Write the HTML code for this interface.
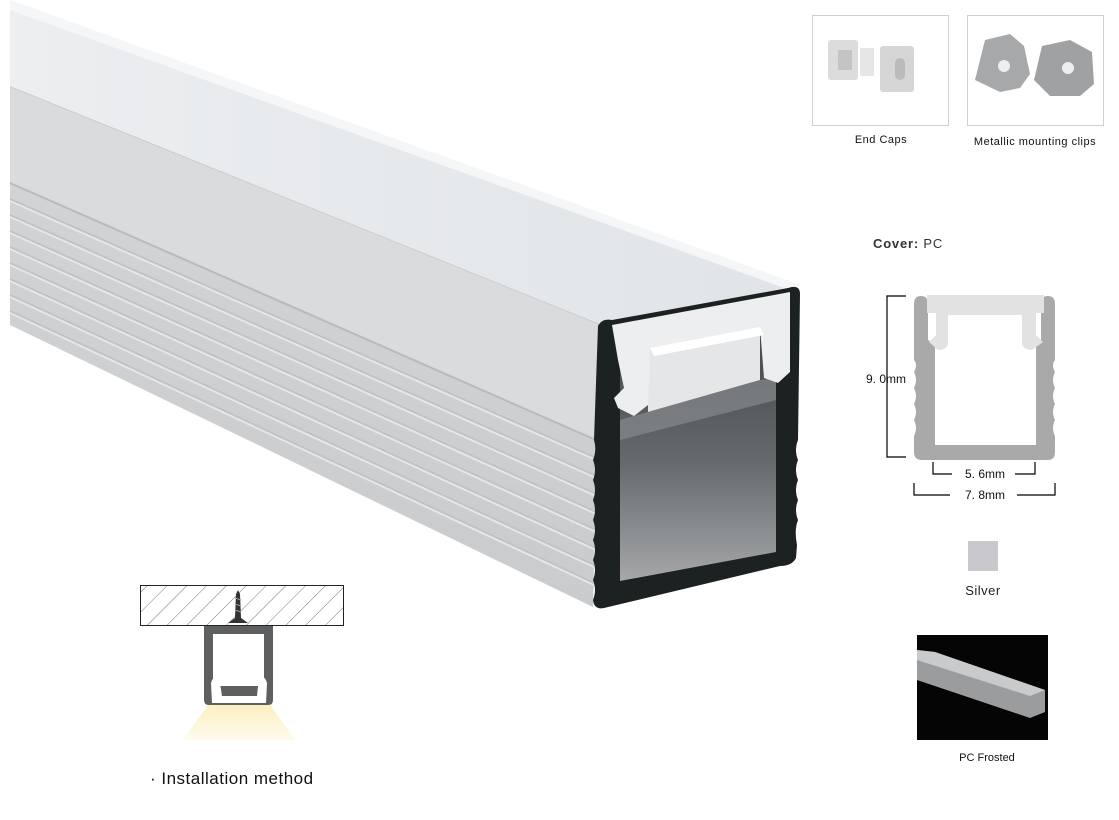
<!DOCTYPE html>
<html><head><style>
body{margin:0;background:#fff;width:1119px;height:820px;overflow:hidden;font-family:"Liberation Sans",sans-serif}
svg{position:absolute;left:0;top:0}
</style></head><body>
<svg width="1119" height="820" viewBox="0 0 1119 820" xmlns="http://www.w3.org/2000/svg">
<defs>
<linearGradient id="side" x1="0" y1="0" x2="0" y2="1"><stop offset="0" stop-color="#d3d5d7"/><stop offset="1" stop-color="#c9cbcd"/></linearGradient>
<linearGradient id="top" x1="0" y1="0" x2="1" y2="0"><stop offset="0" stop-color="#eceef0"/><stop offset="1" stop-color="#e0e4e8"/></linearGradient>
<linearGradient id="cav" x1="0" y1="0" x2="0" y2="1"><stop offset="0" stop-color="#3f4447"/><stop offset="0.55" stop-color="#666a6d"/><stop offset="1" stop-color="#a5a7a9"/></linearGradient>
<linearGradient id="cone" x1="0" y1="0" x2="0" y2="1"><stop offset="0" stop-color="#fbefc0"/><stop offset="1" stop-color="#fffbee"/></linearGradient>
<pattern id="hatch" width="14" height="14" patternUnits="userSpaceOnUse" patternTransform="rotate(45)"><line x1="0" y1="0" x2="0" y2="14" stroke="#555" stroke-width="0.8"/></pattern>
</defs>
<!-- top face -->
<polygon points="10,0 800,285 600,325 10,87" fill="url(#top)"/>
<polygon points="10,0 800,285 790,290 10,10" fill="#f4f6f7"/>
<line x1="10" y1="87" x2="600" y2="325" stroke="#c4c7ca" stroke-width="1.5"/>
<!-- side face -->
<polygon points="10,87 600,325 593,607 10,325" fill="url(#side)"/>
<polygon points="10,87 600,325 598,440 10,183" fill="#d9dbdd"/>
<g stroke-width="2" fill="none">
<path d="M10,183 L596,440" stroke="#b8babc"/>
<path d="M10,199 L596,458" stroke="#c0c2c4"/><path d="M10,201 L596,460" stroke="#e4e6e8"/>
<path d="M10,215 L596,476" stroke="#c0c2c4"/><path d="M10,217 L596,478" stroke="#e4e6e8"/>
<path d="M10,231 L596,494" stroke="#c0c2c4"/><path d="M10,233 L596,496" stroke="#e4e6e8"/>
<path d="M10,247 L596,512" stroke="#c0c2c4"/><path d="M10,249 L596,514" stroke="#e4e6e8"/>
<path d="M10,263 L596,530" stroke="#c0c2c4"/><path d="M10,265 L596,532" stroke="#e4e6e8"/>
<path d="M10,279 L596,548" stroke="#c0c2c4"/><path d="M10,281 L596,550" stroke="#e4e6e8"/>
<path d="M10,295 L596,566" stroke="#c0c2c4"/><path d="M10,297 L596,568" stroke="#e4e6e8"/>
<path d="M10,311 L596,584" stroke="#c0c2c4"/><path d="M10,313 L596,586" stroke="#e4e6e8"/>
</g>
<!-- front face -->
<path d="M598,326 Q602,318 612,320 L788,288 Q800,284 800,294 L798,440 Q794,450 798,460 Q794,470 798,480 Q794,490 798,500 Q794,510 798,520 Q794,530 797,545 L796,558 Q792,566 780,566 L604,608 Q594,610 593,600 Q597,590 593,580 Q597,570 593,560 Q597,550 593,540 Q597,530 593,520 Q597,510 593,500 Q597,490 593,480 Q597,470 593,460 Q597,450 594,440 Z" fill="#1c2121"/>
<polygon points="620,350 776,318 776,552 620,581" fill="url(#cav)"/>
<polygon points="648,348 760,326 760,380 648,412" fill="#e4e6e8"/>
<polygon points="648,412 760,380 776,378 776,400 620,440 620,420" fill="#8d9194" opacity="0.6"/>
<!-- cover insert -->
<path d="M612,325 L790,292 L790,372 L778,383 L764,378 L760,327 L650,348 L648,405 L634,416 L618,408 L614,398 L624,388 L618,360 Z" fill="#eceef0"/>
<polygon points="650,348 760,327 764,335 654,356" fill="#ffffff"/>

<!-- right top boxes -->
<rect x="812.5" y="15.5" width="136" height="110" fill="#fff" stroke="#cfcfcf"/>
<rect x="967.5" y="15.5" width="136" height="110" fill="#fff" stroke="#cfcfcf"/>
<rect x="828" y="40" width="30" height="40" rx="3" fill="#dcdcdc"/>
<rect x="838" y="50" width="14" height="20" fill="#c4c4c4"/>
<rect x="860" y="48" width="14" height="28" fill="#e6e6e6"/>
<rect x="880" y="46" width="34" height="46" rx="3" fill="#d6d6d6"/>
<rect x="895" y="58" width="10" height="22" rx="5" fill="#bbb"/>
<path d="M975,80 L985,40 L1010,34 L1024,46 L1030,74 L1020,88 L1000,92 Z" fill="#a6a8aa"/>
<path d="M1034,80 L1042,46 L1070,40 L1092,52 L1094,84 L1080,96 L1050,96 Z" fill="#9fa1a3"/>
<circle cx="1004" cy="66" r="6" fill="#eee"/><circle cx="1068" cy="68" r="6" fill="#eee"/>
<text x="881" y="143" font-size="11" text-anchor="middle" fill="#111" letter-spacing="0.5">End Caps</text>
<text x="1035" y="145" font-size="11" text-anchor="middle" fill="#111" letter-spacing="0.5">Metallic mounting clips</text>
<text x="873" y="248" font-size="13" fill="#333" letter-spacing="0.8"><tspan font-weight="bold">Cover: </tspan>PC</text>

<!-- cross section -->
<g stroke="#000" stroke-width="1.2" fill="none">
<path d="M906,296 H887 V457 H906"/>
<path d="M933,462 V474 H952 M1015,474 H1035 V462"/>
<path d="M914,483 V495 H950 M1017,495 H1055 V483"/>
</g>
<text x="866" y="383" font-size="12" fill="#111">9. 0mm</text>
<text x="985" y="478" font-size="12" text-anchor="middle" fill="#111">5. 6mm</text>
<text x="985" y="499" font-size="12" text-anchor="middle" fill="#111">7. 8mm</text>
<path d="M921,296 Q914,296 914,304 L914,360 Q918,365 914,372 Q918,380 914,388 Q918,396 914,404 Q918,412 914,420 Q918,428 914,436 L914,452 Q914,460 922,460 L1048,460 Q1055,460 1055,452 L1055,436 Q1051,428 1055,420 Q1051,412 1055,404 Q1051,396 1055,388 Q1051,380 1055,372 Q1051,365 1055,360 L1055,304 Q1055,296 1048,296 Q1041,296 1041,304 L1041,340 L1036,344 L1036,445 L935,445 L935,344 L928,340 L928,304 Q928,296 921,296 Z" fill="#a9a9a9"/>
<path d="M927,295 L1044,295 L1044,313 L1036,313 L1036,335 L1043,342 L1032,350 Q1024,350 1022,344 L1022,315 L948,315 L948,344 Q946,350 938,350 L929,342 L936,335 L936,313 L927,313 Z" fill="#e2e2e2"/>

<rect x="968" y="541" width="30" height="30" fill="#c9c9cd"/>
<text x="983" y="595" font-size="13" text-anchor="middle" fill="#222" letter-spacing="0.5">Silver</text>
<rect x="917" y="635" width="131" height="105" fill="#050505"/>
<polygon points="917,650 935,652 1045,690 1045,712 1030,718 917,680" fill="#9a9c9e"/>
<polygon points="917,650 935,652 1045,690 1030,696 917,660" fill="#c8cacc"/>
<text x="987" y="761" font-size="11" text-anchor="middle" fill="#111">PC Frosted</text>

<!-- installation -->
<rect x="140.5" y="585.5" width="203" height="40" fill="url(#hatch)" stroke="#222"/>
<path d="M236,594 L238,590 L240,594 L241,618 L248,623 L228,623 L235,618 Z" fill="#333"/>
<g stroke="#999" stroke-width="1"><line x1="235" y1="598" x2="241" y2="600"/><line x1="235" y1="604" x2="241" y2="606"/><line x1="235" y1="610" x2="241" y2="612"/></g>
<polygon points="208,705 270,705 295,740 183,740" fill="url(#cone)"/>
<path d="M204,626 H273 V700 Q273,705 268,705 H209 Q204,705 204,700 Z" fill="#5d5f61"/>
<rect x="213" y="634" width="51" height="52" fill="#fff"/>
<path d="M211,683 Q213,675 219,677 L222,696 L257,696 L259,677 Q265,675 267,683 L266,703 L212,703 Z" fill="#fff"/>
<text x="150" y="784" font-size="17" fill="#111" letter-spacing="0.5">· Installation method</text>
</svg>
</body></html>
